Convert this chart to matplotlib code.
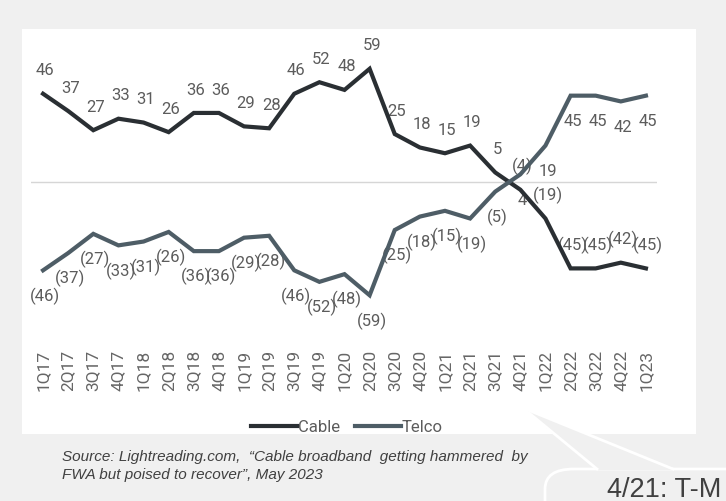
import matplotlib
matplotlib.use("Agg")
import matplotlib.pyplot as plt
from matplotlib.patches import Rectangle, FancyBboxPatch, Polygon
from matplotlib.lines import Line2D

# quarterly net adds (thousands)
quarters = ["1Q17", "2Q17", "3Q17", "4Q17", "1Q18", "2Q18", "3Q18", "4Q18",
            "1Q19", "2Q19", "3Q19", "4Q19", "1Q20", "2Q20", "3Q20", "4Q20",
            "1Q21", "2Q21", "3Q21", "4Q21", "1Q22", "2Q22", "3Q22", "4Q22", "1Q23"]
cable = [46, 37, 27, 33, 31, 26, 36, 36, 29, 28, 46, 52, 48, 59, 25, 18,
         15, 19, 5, -4, -19, -45, -45, -42, -45]
telco = [-46, -37, -27, -33, -31, -26, -36, -36, -29, -28, -46, -52, -48, -59, -25, -18,
         -15, -19, -5, 4, 19, 45, 45, 42, 45]

W, H = 726, 501
BG = "#f0f0f0"
CABLE_C = "#2a2f33"
TELCO_C = "#4e5d66"
LABEL_C = "#5c5c5c"


def fx(x):
    return x / W


def fy(y):
    return 1 - y / H


def fmt(v):
    return f"({abs(v)})" if v < 0 else str(v)


fig = plt.figure(figsize=(W / 100, H / 100), dpi=100, facecolor=BG)

# white chart panel
fig.add_artist(Rectangle((fx(22), fy(434)), fx(696) - fx(22), fy(29) - fy(434),
                         transform=fig.transFigure, facecolor="white",
                         edgecolor="none", zorder=0))

ax = fig.add_axes([fx(31), fy(340), fx(657) - fx(31), fy(40) - fy(340)])
ax.patch.set_visible(False)
x = list(range(len(quarters)))

ax.axhline(0, color="#d6d6d6", lw=1, zorder=1)
ax.plot(x, cable, color=CABLE_C, lw=3, solid_joinstyle="miter", zorder=3, label="Cable")
ax.plot(x, telco, color=TELCO_C, lw=3, solid_joinstyle="miter", zorder=3, label="Telco")

for i, v in enumerate(cable):
    ax.annotate(fmt(v), (i, v), xytext=(1.5, 16.5), textcoords="offset points",
                ha="center", va="center", fontsize=12, color=LABEL_C,
                family="Roboto", zorder=2)
for i, v in enumerate(telco):
    ax.annotate(fmt(v), (i, v), xytext=(1.5, -18.5), textcoords="offset points",
                ha="center", va="center", fontsize=12, color=LABEL_C,
                family="Roboto", zorder=2)

ax.set_xlim(-0.48, 24.44)
ax.set_ylim(-82.3, 74)
ax.set_xticks(x)
ax.set_xticklabels(quarters, rotation=90, fontsize=12.5, color="#666666", family="Roboto")
ax.tick_params(axis="x", length=0, pad=7)
ax.set_yticks([])
for s in ax.spines.values():
    s.set_visible(False)

fig.legend(loc="center", bbox_to_anchor=(fx(347), fy(427)), ncol=2, frameon=False,
           prop={"family": "Roboto", "size": 12}, labelcolor=LABEL_C,
           handlelength=2.75, handletextpad=0.05, columnspacing=0.9)

# source note
fig.text(fx(62), fy(461), "Source: Lightreading.com,  \u201cCable broadband  getting hammered  by",
         fontsize=11, style="italic", family="Liberation Sans", color="#404040", va="baseline")
fig.text(fx(62), fy(479), "FWA but poised to recover\u201d, May 2023",
         fontsize=11, style="italic", family="Liberation Sans", color="#404040", va="baseline")

# speech bubble at the bottom right
fig.add_artist(FancyBboxPatch((fx(545), fy(560)), fx(800) - fx(545), fy(469) - fy(560),
                              boxstyle="round,pad=0,rounding_size=0.04",
                              transform=fig.transFigure, facecolor=BG,
                              edgecolor="white", lw=2, zorder=4))
fig.add_artist(Polygon([(fx(523), fy(408)), (fx(597), fy(470)), (fx(673), fy(470))],
                       closed=True, transform=fig.transFigure, facecolor=BG,
                       edgecolor="none", zorder=5))
fig.add_artist(Line2D([fx(523), fx(597)], [fy(408), fy(469)], transform=fig.transFigure,
                      color="white", lw=2, zorder=6))
fig.add_artist(Line2D([fx(523), fx(673)], [fy(408), fy(469)], transform=fig.transFigure,
                      color="white", lw=2, zorder=6))
fig.text(fx(607), fy(497), "4/21: T-M", fontsize=19.5, family="Liberation Sans",
         color="#404040", va="baseline", zorder=7)

fig.savefig("out.png", dpi=100, facecolor=BG)
